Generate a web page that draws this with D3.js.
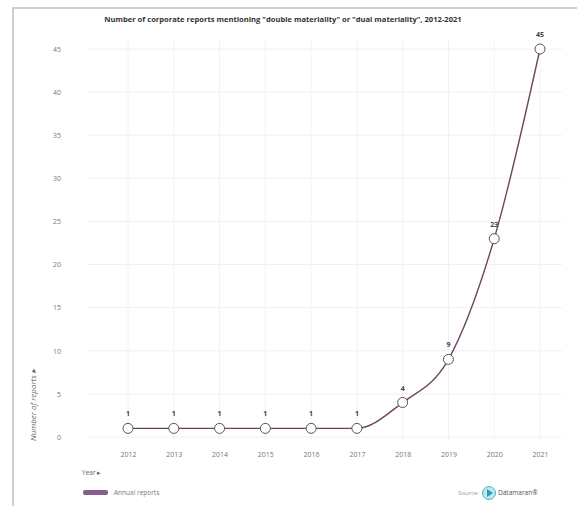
<!DOCTYPE html>
<html><head><meta charset="utf-8">
<script src="https://cdn.jsdelivr.net/npm/d3@7"></script>
<style>body{margin:0;background:#fff;font-family:"Open Sans",sans-serif}</style>
</head><body>
<svg id="c" width="577" height="506"></svg>
<script>
const years = ["2012","2013","2014","2015","2016","2017","2018","2019","2020","2021"];
const reports = [1,1,1,1,1,1,4,9,23,45];
const yTicks = [0,5,10,15,20,25,30,35,40,45];

const svg = d3.select("#c");
// frame
svg.append("rect").attr("x",13).attr("y",8).attr("width",570).attr("height",510)
  .attr("fill","none").attr("stroke","#cfcfcf").attr("stroke-width",2);

svg.append("text").attr("x",283).attr("y",22).attr("text-anchor","middle")
  .attr("font-size",7.6).attr("font-weight","bold").attr("fill","#333")
  .text('Number of corporate reports mentioning "double materiality" or "dual materiality", 2012-2021');

const x = d3.scalePoint().domain(years).range([128,540]);
const y = d3.scaleLinear().domain([0,45]).range([437,49]);

// grid
const g = svg.append("g");
g.selectAll("line.h").data(yTicks).join("line")
  .attr("x1",88).attr("x2",562).attr("y1",d=>y(d)).attr("y2",d=>y(d))
  .attr("stroke","#f0f0f0");
g.selectAll("line.v").data(years).join("line")
  .attr("x1",d=>x(d)).attr("x2",d=>x(d)).attr("y1",40).attr("y2",440)
  .attr("stroke","#f2f2f2");

// axes
const ya = svg.append("g").attr("transform","translate(64,0)")
  .call(d3.axisLeft(y).tickValues(yTicks).tickSize(0));
ya.select(".domain").remove();
ya.selectAll("text").attr("font-size",7).attr("fill","#777").attr("font-family","Open Sans");

const xa = svg.append("g").attr("transform","translate(0,449)")
  .call(d3.axisBottom(x).tickSize(0));
xa.select(".domain").remove();
xa.selectAll("text").attr("font-size",7).attr("fill","#777").attr("font-family","Open Sans");

svg.append("text").attr("transform","translate(36,441) rotate(-90)")
  .attr("font-size",8).attr("font-style","italic").attr("fill","#666")
  .text("Number of reports ▸");
svg.append("text").attr("x",82).attr("y",475).attr("font-size",6.5).attr("fill","#666").text("Year ▸");

// line
const data = years.map((yr,i)=>({yr,v:reports[i]}));
svg.append("path").datum(data)
  .attr("d",d3.line().x(d=>x(d.yr)).y(d=>y(d.v)).curve(d3.curveMonotoneX))
  .attr("fill","none").attr("stroke","#6e4560").attr("stroke-width",1.4);

svg.selectAll("circle.p").data(data).join("circle")
  .attr("cx",d=>x(d.yr)).attr("cy",d=>y(d.v)).attr("r",5)
  .attr("fill","#fff").attr("stroke","#555").attr("stroke-width",1);

svg.selectAll("text.lab").data(data).join("text")
  .attr("x",d=>x(d.yr)).attr("y",d=>y(d.v)-12).attr("text-anchor","middle")
  .attr("font-size",7).attr("font-weight","bold").attr("fill","#444")
  .text(d=>d.v);

// legend
svg.append("rect").attr("x",83).attr("y",490).attr("width",25).attr("height",5)
  .attr("rx",2).attr("fill","#8a5a93");
svg.append("text").attr("x",114).attr("y",495).attr("font-size",6.5).attr("fill","#777").text("Annual reports");

// source
svg.append("text").attr("x",479).attr("y",495).attr("text-anchor","end")
  .attr("font-size",6).attr("fill","#999").text("Source:");
svg.append("circle").attr("cx",489).attr("cy",493).attr("r",6.5).attr("fill","#bfe7ee").attr("stroke","#49b4c8").attr("stroke-width",1);
svg.append("path").attr("d","M487,489 L493,493 L487,497 Z").attr("fill","#2e9ab3");
svg.append("text").attr("x",498).attr("y",495).attr("font-size",6.5).attr("fill","#555").text("Datamaran®");
</script>
</body></html>
